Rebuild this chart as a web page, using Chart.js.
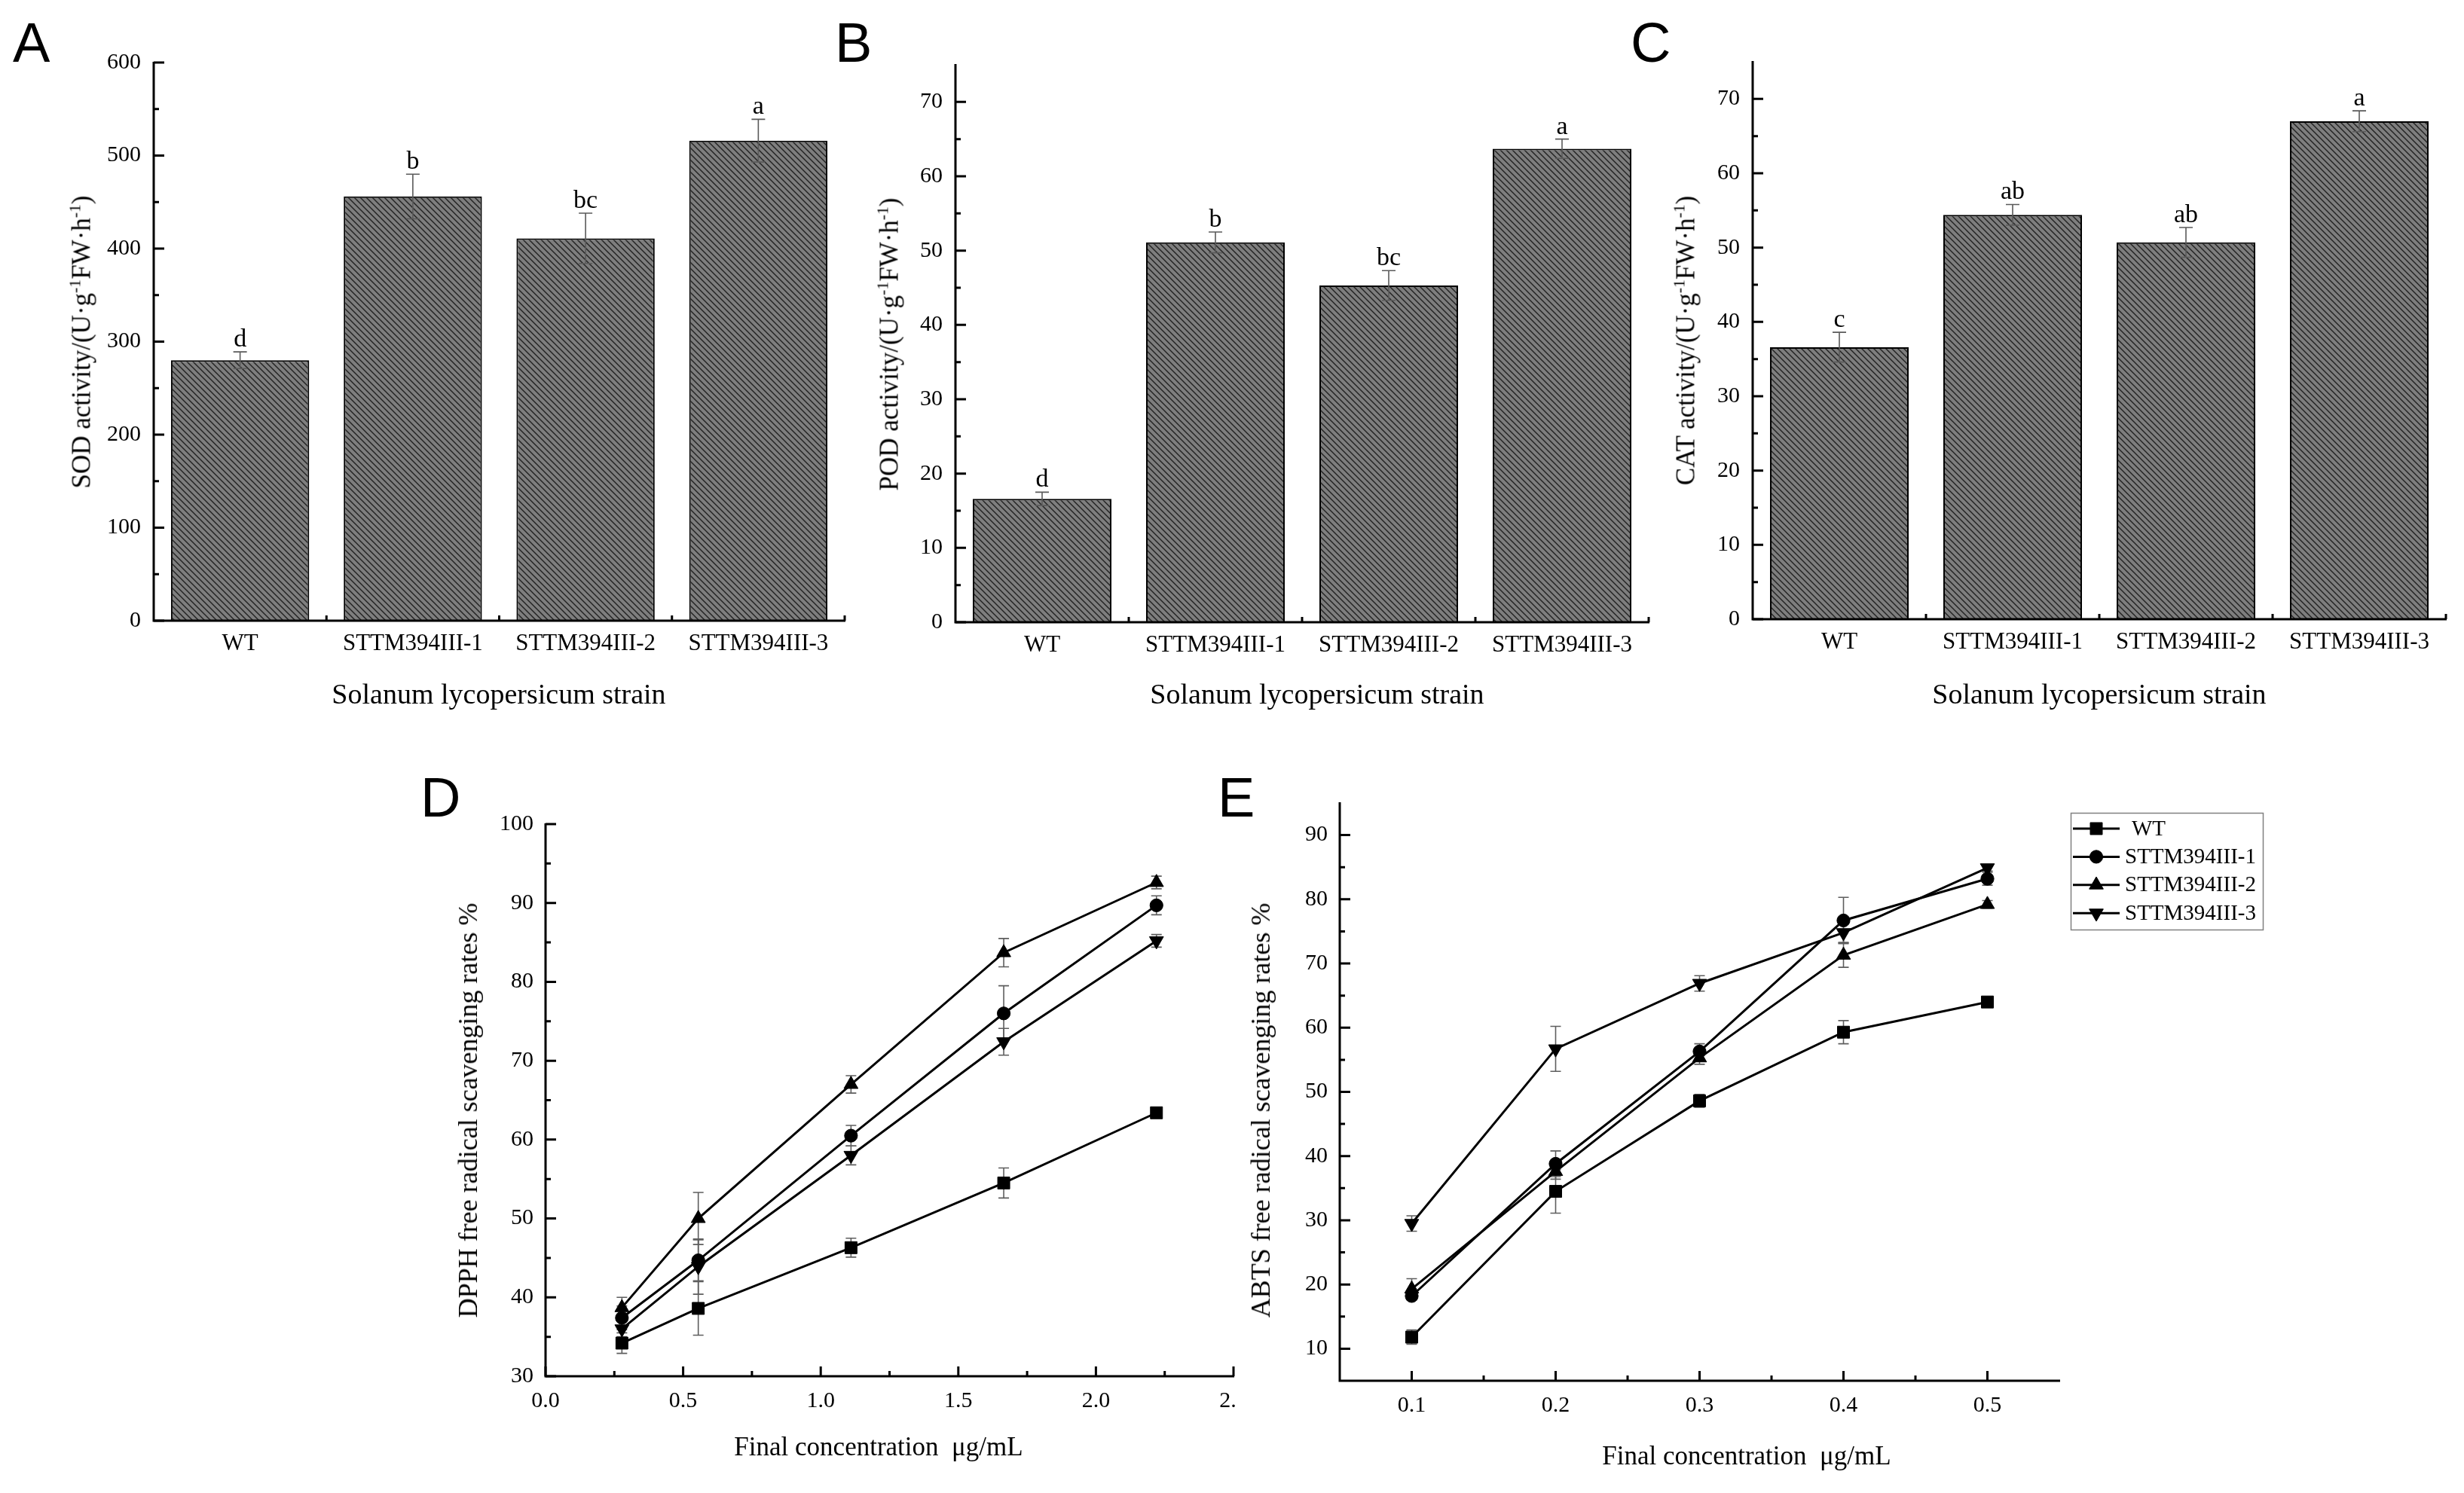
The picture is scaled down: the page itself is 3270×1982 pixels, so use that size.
<!DOCTYPE html>
<html>
<head>
<meta charset="utf-8">
<script src="https://cdn.jsdelivr.net/npm/chart.js@4.4.1/dist/chart.umd.min.js"></script>
<style>
html,body{margin:0;padding:0;background:#fff;}
#page{position:relative;width:3270px;height:1982px;overflow:hidden;background:#fff;}
#page canvas{position:absolute;left:0;top:0;}
.lbl{position:absolute;font-family:'Liberation Sans',Arial,sans-serif;font-size:74px;line-height:1;color:#000;z-index:5;}
.t{position:absolute;font-family:'Liberation Serif','Times New Roman',serif;color:#000;white-space:pre;line-height:1;transform:translate(-50%,-50%);z-index:5;}
.ty{transform:translate(-50%,-50%) rotate(-90deg);}
.t sup{font-size:0.62em;vertical-align:0.6em;line-height:0;}
</style>
</head>
<body>
<div id="page">
<canvas id="cA" width="3270" height="1982"></canvas>
<canvas id="cB" width="3270" height="1982"></canvas>
<canvas id="cC" width="3270" height="1982"></canvas>
<canvas id="cD" width="3270" height="1982"></canvas>
<canvas id="cE" width="3270" height="1982"></canvas>

<div class="lbl" style="left:17px;top:20px;">A</div>
<div class="lbl" style="left:1108px;top:20px;">B</div>
<div class="lbl" style="left:2164px;top:20px;">C</div>
<div class="lbl" style="left:558px;top:1022px;">D</div>
<div class="lbl" style="left:1616px;top:1022px;">E</div>

<div class="t ty" style="left:108px;top:454px;font-size:35px;">SOD activity/(U·g<sup>-1</sup>FW·h<sup>-1</sup>)</div>
<div class="t ty" style="left:1180px;top:457px;font-size:35px;">POD activity/(U·g<sup>-1</sup>FW·h<sup>-1</sup>)</div>
<div class="t ty" style="left:2237px;top:452px;font-size:35px;">CAT activity/(U·g<sup>-1</sup>FW·h<sup>-1</sup>)</div>
<div class="t ty" style="left:621px;top:1474px;font-size:36px;">DPPH free radical scavenging rates %</div>
<div class="t ty" style="left:1673px;top:1474px;font-size:36px;">ABTS free radical scavenging rates %</div>

<div class="t" style="left:662px;top:921px;font-size:38px;">Solanum lycopersicum strain</div>
<div class="t" style="left:1748px;top:921px;font-size:38px;">Solanum lycopersicum strain</div>
<div class="t" style="left:2786px;top:921px;font-size:38px;">Solanum lycopersicum strain</div>
<div class="t" style="left:1166px;top:1920px;font-size:35px;">Final concentration  μg/mL</div>
<div class="t" style="left:2318px;top:1932px;font-size:35px;">Final concentration  μg/mL</div>
</div>

<script>
// ---------------- DATA ----------------
const strains = ['WT', 'STTM394III-1', 'STTM394III-2', 'STTM394III-3'];

const sodValues  = [280, 456, 411, 516];
const sodErrors  = [9, 24, 27, 23];
const sodLetters = ['d', 'b', 'bc', 'a'];
const sodTicks   = [0, 100, 200, 300, 400, 500, 600];

const podValues  = [16.6, 51.1, 45.3, 63.7];
const podErrors  = [0.9, 1.4, 2.0, 1.3];
const podLetters = ['d', 'b', 'bc', 'a'];

const catValues  = [36.6, 54.4, 50.7, 67.0];
const catErrors  = [2.0, 1.4, 2.0, 1.4];
const catLetters = ['c', 'ab', 'ab', 'a'];

const enzymeTicks = [0, 10, 20, 30, 40, 50, 60, 70];

const seriesNames = ['WT', 'STTM394III-1', 'STTM394III-2', 'STTM394III-3'];

const dpphConc = [0.2775, 0.555, 1.11, 1.665, 2.22];
const dpphWT   = [34.2, 38.6, 46.3, 54.5, 63.4];
const dpphWTe  = [1.3, 3.4, 1.2, 1.9, 0.5];
const dpphS1   = [37.4, 44.7, 60.5, 76.0, 89.7];
const dpphS1e  = [1.5, 2.6, 1.3, 3.5, 1.2];
const dpphS2   = [38.7, 50.0, 67.0, 83.7, 92.6];
const dpphS2e  = [1.3, 3.3, 1.1, 1.8, 0.8];
const dpphS3   = [36.0, 43.9, 58.0, 72.4, 85.2];
const dpphS3e  = [1.0, 3.5, 1.2, 1.7, 0.8];
const dpphXTicks = [0, 0.5, 1.0, 1.5, 2.0, 2.5];
const dpphXTickLabels = ['0.0', '0.5', '1.0', '1.5', '2.0', '2.  '];
const dpphYTicks = [30, 40, 50, 60, 70, 80, 90, 100];

const abtsConc = [0.1, 0.2, 0.3, 0.4, 0.5];
const abtsWT   = [11.8, 34.5, 48.6, 59.3, 64.0];
const abtsWTe  = [1.1, 3.4, 1.0, 1.8, 0.4];
const abtsS1   = [18.2, 38.8, 56.3, 76.7, 83.2];
const abtsS1e  = [0.6, 2.0, 1.2, 3.6, 1.0];
const abtsS2   = [19.3, 37.6, 55.3, 71.3, 79.2];
const abtsS2e  = [1.6, 1.2, 1.0, 1.9, 0.6];
const abtsS3   = [29.5, 56.7, 66.9, 74.8, 84.9];
const abtsS3e  = [1.2, 3.5, 1.2, 1.5, 0.5];
const abtsXTicks = [0.1, 0.2, 0.3, 0.4, 0.5];
const abtsXTickLabels = ['0.1', '0.2', '0.3', '0.4', '0.5'];
const abtsYTicks = [10, 20, 30, 40, 50, 60, 70, 80, 90];

// ---------------- STYLE / LAYOUT ----------------
const W = 3270, H = 1982;
const SERIF = "'Liberation Serif', 'Times New Roman', serif";

function hatchPattern() {
  const c = document.createElement('canvas');
  c.width = 8; c.height = 8;
  const g = c.getContext('2d');
  g.fillStyle = '#7e7e7e';
  g.fillRect(0, 0, 8, 8);
  g.strokeStyle = '#222';
  g.lineWidth = 1.4;
  g.beginPath();
  g.moveTo(-2, -2); g.lineTo(10, 10);
  g.moveTo(-2, 6); g.lineTo(2, 10);
  g.moveTo(6, -2); g.lineTo(10, 2);
  g.stroke();
  return g.createPattern(c, 'repeat');
}

function midpoints(arr) {
  const out = [];
  for (let i = 0; i < arr.length - 1; i++) out.push((arr[i] + arr[i + 1]) / 2);
  return out;
}

function drawErrors(chart, o) {
  const ctx = chart.ctx, ys = chart.scales.y;
  ctx.save();
  ctx.strokeStyle = o.errColor || '#5c5c5c';
  ctx.lineWidth = 1.6;
  chart.data.datasets.forEach((ds, i) => {
    const meta = chart.getDatasetMeta(i);
    const errs = o.errors[i];
    meta.data.forEach((el, j) => {
      const d = ds.data[j];
      const v = (typeof d === 'object') ? d.y : d;
      const e = errs[j];
      const yt = ys.getPixelForValue(v + e), yb = ys.getPixelForValue(v - e);
      const x = el.x, hw = o.capW / 2;
      ctx.beginPath();
      ctx.moveTo(x, yt); ctx.lineTo(x, yb);
      ctx.moveTo(x - hw, yt); ctx.lineTo(x + hw, yt);
      ctx.moveTo(x - hw, yb); ctx.lineTo(x + hw, yb);
      ctx.stroke();
    });
  });
  ctx.restore();
}

function drawAxes(chart, o) {
  const ctx = chart.ctx, a = chart.chartArea, xs = chart.scales.x, ys = chart.scales.y;
  ctx.save();
  ctx.strokeStyle = '#000';
  ctx.lineWidth = 3;
  ctx.lineCap = 'butt';
  ctx.lineJoin = 'miter';
  ctx.beginPath();
  ctx.moveTo(a.left, a.top - 1);
  ctx.lineTo(a.left, a.bottom);
  ctx.lineTo(a.right + 1, a.bottom);
  ctx.stroke();
  const yMaj = ys.ticks.map(t => t.value);
  ctx.beginPath();
  yMaj.forEach(v => { const p = ys.getPixelForValue(v); ctx.moveTo(a.left, p); ctx.lineTo(a.left + 14, p); });
  midpoints(yMaj).forEach(v => { const p = ys.getPixelForValue(v); ctx.moveTo(a.left, p); ctx.lineTo(a.left + 7, p); });
  if (o.kind === 'bar') {
    const n = chart.data.labels.length;
    const step = xs.getPixelForValue(1) - xs.getPixelForValue(0);
    for (let i = 1; i <= n; i++) {
      const p = xs.getPixelForValue(i) - step / 2;
      ctx.moveTo(p, a.bottom); ctx.lineTo(p, a.bottom - 7);
    }
  } else {
    const xMaj = xs.ticks.map(t => t.value);
    xMaj.forEach(v => { const p = xs.getPixelForValue(v); ctx.moveTo(p, a.bottom); ctx.lineTo(p, a.bottom - 13); });
    midpoints(xMaj).forEach(v => { const p = xs.getPixelForValue(v); ctx.moveTo(p, a.bottom); ctx.lineTo(p, a.bottom - 7); });
  }
  ctx.stroke();
  ctx.restore();
}

function drawLetters(chart, o) {
  if (!o.letters) return;
  const ctx = chart.ctx, ys = chart.scales.y;
  const ds = chart.data.datasets[0], meta = chart.getDatasetMeta(0);
  ctx.save();
  ctx.fillStyle = '#000';
  ctx.font = '34px ' + SERIF;
  ctx.textAlign = 'center';
  ctx.textBaseline = 'alphabetic';
  meta.data.forEach((el, j) => {
    const top = ys.getPixelForValue(ds.data[j] + o.errors[0][j]);
    ctx.fillText(o.letters[j], el.x, top - 7);
  });
  ctx.restore();
}

function markerPath(ctx, style, rot, r, x, y) {
  if (Chart.helpers && Chart.helpers.drawPoint) {
    Chart.helpers.drawPoint(ctx, {pointStyle: style, rotation: rot, radius: r, borderWidth: 1}, x, y);
  }
}

function drawLegend(chart) {
  const ctx = chart.ctx;
  ctx.save();
  ctx.strokeStyle = '#808080';
  ctx.lineWidth = 1.5;
  ctx.strokeRect(2748.5, 1079.5, 255, 155);
  chart.data.datasets.forEach((ds, i) => {
    const y = 1100 + i * 37.4;
    ctx.strokeStyle = '#000';
    ctx.lineWidth = 3;
    ctx.beginPath(); ctx.moveTo(2751, y); ctx.lineTo(2813, y); ctx.stroke();
    ctx.fillStyle = '#000';
    ctx.lineWidth = 1;
    markerPath(ctx, ds.pointStyle, ds.pointRotation || 0, ds.pointRadius, 2782, y);
    ctx.font = '29px ' + SERIF;
    ctx.textAlign = 'left';
    ctx.textBaseline = 'middle';
    ctx.fillText(ds.label, i === 0 ? 2829 : 2820, y + 1);
  });
  ctx.restore();
}

const deco = {
  id: 'deco',
  beforeDatasetsDraw(chart, args, o) { if (o.kind === 'line') drawErrors(chart, o); },
  afterDatasetsDraw(chart, args, o) {
    if (o.kind === 'bar') drawErrors(chart, o);
    drawAxes(chart, o);
    drawLetters(chart, o);
    if (o.legend) drawLegend(chart);
  }
};

function baseScale(area, axis, tickSize, pad) {
  return {
    grid: {display: false, drawTicks: false},
    border: {display: false},
    ticks: {font: {family: SERIF, size: tickSize}, color: '#000', padding: pad, maxRotation: 0, minRotation: 0, autoSkip: false},
    afterFit: axis === 'x' ? (s => { s.height = H - area.b; }) : (s => { s.width = area.l; })
  };
}

function barChart(id, area, values, errors, letters, yMax, yTicks) {
  const xScale = baseScale(area, 'x', 31, 12);
  xScale.type = 'category';
  xScale.offset = true;
  const yScale = baseScale(area, 'y', 30, 17);
  yScale.type = 'linear';
  yScale.min = 0; yScale.max = yMax;
  yScale.afterBuildTicks = s => { s.ticks = yTicks.map(v => ({value: v})); };
  return new Chart(document.getElementById(id), {
    type: 'bar',
    data: {
      labels: strains,
      datasets: [{
        data: values,
        backgroundColor: hatchPattern(),
        borderColor: '#000',
        borderWidth: 2,
        borderSkipped: 'bottom',
        barPercentage: 0.8,
        categoryPercentage: 1.0
      }]
    },
    options: {
      responsive: false, animation: false, devicePixelRatio: 1,
      layout: {padding: {top: area.t, right: W - area.r, left: 0, bottom: 0}},
      plugins: {
        legend: {display: false}, tooltip: {enabled: false},
        deco: {kind: 'bar', errors: [errors], letters: letters, capW: 18, errColor: '#5a5a5a'}
      },
      scales: {x: xScale, y: yScale}
    },
    plugins: [deco]
  });
}

const markerStyles = [
  {pointStyle: 'rect', pointRotation: 0, pointRadius: 11.3},
  {pointStyle: 'circle', pointRotation: 0, pointRadius: 8.6},
  {pointStyle: 'triangle', pointRotation: 0, pointRadius: 10.8},
  {pointStyle: 'triangle', pointRotation: 180, pointRadius: 10.8}
];

function lineChart(id, area, conc, series, errs, xMin, xMax, xTicks, xLabels, yMin, yMax, yTicks, legend) {
  const xScale = baseScale(area, 'x', 30, 15);
  xScale.type = 'linear';
  xScale.min = xMin; xScale.max = xMax;
  xScale.afterBuildTicks = s => { s.ticks = xTicks.map(v => ({value: v})); };
  xScale.ticks.callback = (v, i) => xLabels[i];
  const yScale = baseScale(area, 'y', 30, 16);
  yScale.type = 'linear';
  yScale.min = yMin; yScale.max = yMax;
  yScale.afterBuildTicks = s => { s.ticks = yTicks.map(v => ({value: v})); };
  yScale.ticks.callback = v => String(v);
  const datasets = series.map((vals, i) => Object.assign({
    label: seriesNames[i],
    data: vals.map((v, j) => ({x: conc[j], y: v})),
    borderColor: '#000',
    borderWidth: 3,
    backgroundColor: '#000',
    pointBackgroundColor: '#000',
    pointBorderColor: '#000',
    pointBorderWidth: 1,
    fill: false,
    tension: 0,
    clip: false
  }, markerStyles[i]));
  return new Chart(document.getElementById(id), {
    type: 'line',
    data: {datasets: datasets},
    options: {
      responsive: false, animation: false, devicePixelRatio: 1,
      layout: {padding: {top: area.t, right: W - area.r, left: 0, bottom: 0}},
      plugins: {
        legend: {display: false}, tooltip: {enabled: false},
        deco: {kind: 'line', errors: errs, capW: 14, errColor: '#5e5e5e', legend: legend}
      },
      scales: {x: xScale, y: yScale}
    },
    plugins: [deco]
  });
}

barChart('cA', {l: 204, r: 1121, t: 83, b: 824}, sodValues, sodErrors, sodLetters, 600, sodTicks);
barChart('cB', {l: 1268, r: 2188, t: 86, b: 826}, podValues, podErrors, podLetters, 75, enzymeTicks);
barChart('cC', {l: 2326, r: 3246, t: 82, b: 822}, catValues, catErrors, catLetters, 75, enzymeTicks);

lineChart('cD', {l: 724, r: 1637, t: 1094, b: 1827}, dpphConc,
  [dpphWT, dpphS1, dpphS2, dpphS3], [dpphWTe, dpphS1e, dpphS2e, dpphS3e],
  0, 2.5, dpphXTicks, dpphXTickLabels, 30, 100, dpphYTicks, false);

lineChart('cE', {l: 1778, r: 2733, t: 1066, b: 1833}, abtsConc,
  [abtsWT, abtsS1, abtsS2, abtsS3], [abtsWTe, abtsS1e, abtsS2e, abtsS3e],
  0.05, 0.55, abtsXTicks, abtsXTickLabels, 5, 95, abtsYTicks, true);
</script>
</body>
</html>
